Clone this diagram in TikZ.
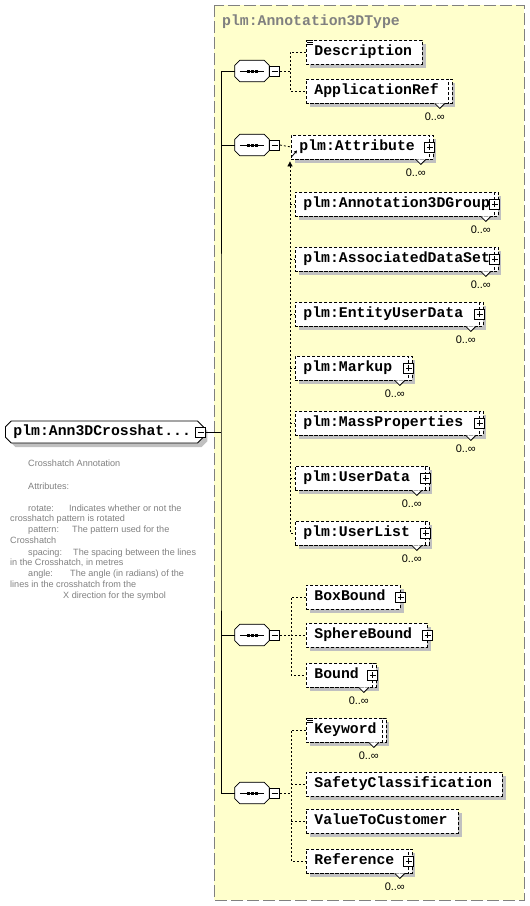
\documentclass[tikz,border=0pt]{standalone}
\usepackage{fontspec}
\usetikzlibrary{shapes.misc,shadows,arrows.meta}

\newfontfamily\elemfont{Liberation Mono}[HyphenChar=None]
\newfontfamily\notefont{Liberation Sans}

\definecolor{typebg}{HTML}{FFFFCC}
\definecolor{shade}{HTML}{C0C0C0}
\definecolor{notegray}{HTML}{808080}

\tikzset{
  elem/.style = {draw, line width=0.8pt, dash pattern=on 3pt off 2pt, fill=white,
    anchor=west, minimum height=24pt, inner xsep=8pt, inner ysep=0pt,
    text height=9pt, text depth=2pt, align=left,
    font=\elemfont\bfseries\fontsize{14.8}{16}\selectfont,
    general shadow={fill=shade, shadow xshift=4pt, shadow yshift=-4pt}},
  multi/.style = {elem,
    general shadow={fill=shade, shadow xshift=7pt, shadow yshift=-4pt},
    general shadow={draw=black, line width=0.8pt, dash pattern=on 3pt off 2pt, fill=white, shadow xshift=4pt, shadow yshift=0pt}},
  plusbox/.style = {draw, solid, line width=0.8pt, fill=white, minimum size=10pt, inner sep=0pt,
    path picture={\draw ([xshift=2pt]path picture bounding box.west) -- ([xshift=-2pt]path picture bounding box.east)
      ([yshift=-2pt]path picture bounding box.north) -- ([yshift=2pt]path picture bounding box.south);}},
  minusbox/.style = {draw, solid, line width=0.8pt, fill=white, minimum size=10pt, inner sep=0pt,
    path picture={\draw ([xshift=2pt]path picture bounding box.west) -- ([xshift=-2pt]path picture bounding box.east);}},
  seqbox/.style = {minimum width=34pt, minimum height=21pt, inner sep=0pt},
  root/.style = {draw, line width=0.8pt, fill=white, chamfered rectangle, chamfered rectangle xsep=3pt,
    anchor=west, minimum height=22pt, inner xsep=5pt, inner ysep=0pt,
    text height=9pt, text depth=2pt, align=left,
    font=\elemfont\bfseries\fontsize{14.8}{16}\selectfont,
    general shadow={fill=shade, shadow xshift=4pt, shadow yshift=-4pt}},
  conn/.style = {line width=0.8pt, dash pattern=on 2pt off 2pt},
  spineline/.style = {line width=0.8pt},
  mult/.style = {font=\notefont\fontsize{11}{13}\selectfont, inner sep=0pt},
  note/.style = {font=\notefont\fontsize{9.1}{11}\selectfont, text=notegray, anchor=base west, inner sep=0pt}
}

\begin{document}
\begin{tikzpicture}[x=1pt, y=-1pt]
  \useasboundingbox (0,0) rectangle (530,906);

  % complex type area
  \draw[draw=notegray, line width=1pt, dash pattern=on 12pt off 4pt, fill=typebg] (214,5) rectangle (524,900);
  \node[anchor=base west, inner sep=0pt, text=notegray, font=\elemfont\bfseries\fontsize{14.8}{16}\selectfont]
    (typename) at (222,25) {plm:Annotation3DType};

  % root element
  \node[root, text width=182pt] (root) at (5,432) {plm:Ann3DCrosshat...};
  \node[minusbox] (root-m) at ([xshift=-3pt]root.east) {};

  % documentation
  \foreach \x/\y/\t [count=\i] in {
    28/466/{Crosshatch Annotation},
    28/489/{Attributes:},
    28/511/{rotate:},
    69/511/{Indicates whether or not the},
    10/521/{crosshatch pattern is rotated},
    28/532/{pattern:},
    72/532/{The pattern used for the},
    10/543/{Crosshatch},
    28/555/{spacing:},
    73/555/{The spacing between the lines},
    10/565/{in the Crosshatch, in metres},
    28/576/{angle:},
    70/576/{The angle (in radians) of the},
    10/587/{lines in the crosshatch from the},
    63/598/{X direction for the symbol}}
    \node[note] (note\i) at (\x,\y) {\t};

  % sequences
  \node[seqbox] (seqA) at (252,71) {};
  \node[seqbox] (seqB) at (252,145) {};
  \node[seqbox] (seqC) at (252,635) {};
  \node[seqbox] (seqD) at (252,793) {};
  \foreach \s in {seqA,seqB,seqC,seqD} {
    \fill[shade, shift={(4,4)}] ([xshift=5pt]\s.north west) -- ([xshift=-5pt]\s.north east)
      -- ([yshift=-5pt]\s.north east) -- ([yshift=5pt]\s.south east) -- ([xshift=-5pt]\s.south east)
      -- ([xshift=5pt]\s.south west) -- ([yshift=5pt]\s.south west) -- ([yshift=-5pt]\s.north west) -- cycle;
    \filldraw[fill=white, line width=0.8pt] ([xshift=5pt]\s.north west) -- ([xshift=-5pt]\s.north east)
      -- ([yshift=-5pt]\s.north east) -- ([yshift=5pt]\s.south east) -- ([xshift=-5pt]\s.south east)
      -- ([xshift=5pt]\s.south west) -- ([yshift=5pt]\s.south west) -- ([yshift=-5pt]\s.north west) -- cycle;
    \draw[line width=0.8pt] ([xshift=5pt]\s.west) -- ([xshift=-5pt]\s.east);
    \foreach \dx in {-4,0,4}
      \fill ([shift={(\dx-1.5,-1.5)}]\s.center) rectangle ++(3,3);
    \node[minusbox, anchor=west] (\s-m) at (\s.east) {};
  }

  \coordinate (spine) at (221,432);
  \coordinate (brA) at (290,71);
  \coordinate (brB) at (290,145);
  \coordinate (brC) at (291,635);
  \coordinate (brD) at (291,793);

  % elements
  \node[elem, text width=100pt] (desc) at (306,52) {Description};
  \node[multi, text width=126pt] (appref) at (306,91) {ApplicationRef};

  \node[multi, text width=122pt] (attr) at (291,147) {plm:Attribute};
  \node[multi, text width=183pt] (a3dg) at (295,204) {plm:Annotation3DGroup};
  \node[multi, text width=183pt] (ads) at (295,259) {plm:AssociatedDataSet};
  \node[multi, text width=168pt] (eud) at (295,314) {plm:EntityUserData};
  \node[multi, text width=97pt] (markup) at (295,368) {plm:Markup};
  \node[multi, text width=168pt] (massp) at (295,423) {plm:MassProperties};
  \node[multi, text width=114pt] (userdata) at (295,478) {plm:UserData};
  \node[multi, text width=114pt] (userlist) at (295,533) {plm:UserList};

  \node[elem, text width=78pt] (boxb) at (306,597) {BoxBound};
  \node[elem, text width=105pt] (sphereb) at (306,635) {SphereBound};
  \node[multi, text width=50pt] (bound) at (306,675) {Bound};

  \node[multi, text width=60pt] (keyword) at (306,730) {Keyword};
  \node[elem, text width=180pt] (safety) at (306,784) {SafetyClassification};
  \node[elem, text width=136pt] (valtc) at (306,821) {ValueToCustomer};
  \node[multi, text width=86pt] (reference) at (306,861) {Reference};

  % simple content marks
  \foreach \n in {desc,keyword}
    \foreach \d in {1,3,5}
      \draw[line width=0.7pt] ([shift={(1,\d)}]\n.north west) -- ++(6,0);

  % occurrences
  \foreach \n in {appref,attr,a3dg,ads,eud,markup,massp,userdata,userlist,bound,keyword,reference} {
    \filldraw[fill=white, line width=0.8pt] ([xshift=-14pt]\n.south east) -- ++(5,5) -- ++(5,-5);
    \node[mult] (\n-n) at ([xshift=-14pt,yshift=-13pt]\n.south east) {0..∞};
  }

  \foreach \n in {attr,a3dg,ads,eud,markup,massp,userdata,userlist,boxb,sphereb,bound,reference}
    \node[plusbox] (\n-p) at (\n.east) {};

  % connectors
  \draw[spineline] (root-m.east) -- (spine) (seqA.west) -| (spine) |- (seqD.west)
    (spine |- seqB.west) -- (seqB.west) (spine |- seqC.west) -- (seqC.west);

  \draw[conn] (seqA-m.east) -- (brA) (desc.west) -| (brA) |- (appref.west);

  \draw[conn] (seqB-m.east) -- (attr.west);
  \draw[conn, {Triangle[length=5pt,width=5pt]}-, shorten <=2pt] (brB |- attr.south) |- (userlist.west);
  \foreach \n in {a3dg,ads,eud,markup,massp,userdata}
    \draw[conn] (brB |- \n.west) -- (\n.west);
  \draw[line width=0.8pt, -{Triangle[length=3pt,width=3pt]}] ([shift={(1,-3)}]attr.south west) -- ++(5,-6);

  \draw[conn] (seqC-m.east) -- (brC) (boxb.west) -| (brC) |- (bound.west)
    (brC |- sphereb.west) -- (sphereb.west);

  \draw[conn] (seqD-m.east) -- (brD) (keyword.west) -| (brD) |- (reference.west)
    (brD |- safety.west) -- (safety.west) (brD |- valtc.west) -- (valtc.west);
\end{tikzpicture}
\end{document}
